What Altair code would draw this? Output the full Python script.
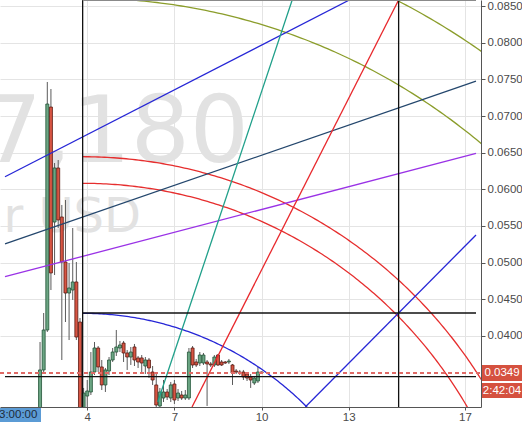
import altair as alt
import numpy as np
import pandas as pd

# Plot area and scale domains (days of month / price)
W, H = 481, 407
X_DOMAIN = [1.169, 17.381]
Y_DOMAIN = [0.03026, 0.08586]

# 3-hour candles, first bar on day 2 at 09:00
first_bar = 2.375
bar_step = 0.125

opens = [0.02849, 0.03532, 0.04078, 0.07124, 0.05553, 0.06291, 0.05622, 0.05007, 0.04583, 0.04624,
         0.04734, 0.04187, 0.02849, 0.03176, 0.03231, 0.03504, 0.03832, 0.03573, 0.03327, 0.03518,
         0.03668, 0.03777, 0.03832, 0.03900, 0.03764, 0.03709, 0.03846, 0.03696, 0.03696, 0.03586,
         0.03668, 0.03504, 0.03327, 0.03040, 0.03149, 0.03231, 0.03149, 0.03340, 0.03149, 0.03190,
         0.03149, 0.03149, 0.03832, 0.03641, 0.03627, 0.03627, 0.03641, 0.03614, 0.03600, 0.03736,
         0.03641, 0.03641, 0.03641, 0.03600, 0.03518, 0.03504, 0.03504, 0.03477, 0.03436, 0.03354,
         0.03381, 0.03504]
closes = [0.03532, 0.04078, 0.07165, 0.04857, 0.06291, 0.05581, 0.05007, 0.04583, 0.04652, 0.04734,
          0.03982, 0.02917, 0.03217, 0.03245, 0.03504, 0.03832, 0.03573, 0.03327, 0.03532, 0.03668,
          0.03777, 0.03846, 0.03873, 0.03764, 0.03709, 0.03777, 0.03668, 0.03641, 0.03627, 0.03668,
          0.03559, 0.03395, 0.03053, 0.03231, 0.03231, 0.03163, 0.03327, 0.03122, 0.03217, 0.03149,
          0.03190, 0.03777, 0.03600, 0.03600, 0.03736, 0.03736, 0.03614, 0.03600, 0.03709, 0.03600,
          0.03600, 0.03627, 0.03654, 0.03490, 0.03504, 0.03490, 0.03436, 0.03422, 0.03395, 0.03422,
          0.03504, 0.03490]
highs = [0.03914, 0.04310, 0.07466, 0.07370, 0.06359, 0.06400, 0.05786, 0.05854, 0.04993, 0.05471,
         0.05007, 0.04242, 0.03286, 0.03395, 0.03777, 0.03914, 0.03859, 0.03668, 0.03559, 0.03709,
         0.03832, 0.04078, 0.03928, 0.03928, 0.03805, 0.03846, 0.03887, 0.03723, 0.03736, 0.03709,
         0.03696, 0.03586, 0.03504, 0.03286, 0.03395, 0.03272, 0.03368, 0.03395, 0.03272, 0.03245,
         0.03258, 0.03832, 0.03859, 0.03682, 0.03777, 0.03764, 0.03668, 0.03641, 0.03736, 0.03750,
         0.03668, 0.03654, 0.03682, 0.03614, 0.03545, 0.03532, 0.03532, 0.03504, 0.03477, 0.03450,
         0.03573, 0.03510]
lows = [0.02780, 0.03504, 0.04051, 0.04624, 0.04829, 0.05471, 0.03668, 0.04187, 0.03941, 0.04488,
        0.03941, 0.02849, 0.02780, 0.03000, 0.03190, 0.03463, 0.03504, 0.03258, 0.03231, 0.03463,
        0.03641, 0.03723, 0.03777, 0.03641, 0.03532, 0.03600, 0.03586, 0.03559, 0.03504, 0.03477,
        0.03422, 0.03327, 0.02999, 0.03012, 0.03094, 0.03122, 0.03094, 0.03067, 0.03108, 0.03122,
        0.03122, 0.03122, 0.03559, 0.03573, 0.03586, 0.03600, 0.03040, 0.03573, 0.03573, 0.03586,
        0.03586, 0.03614, 0.03614, 0.03327, 0.03477, 0.03463, 0.03395, 0.03381, 0.03286, 0.03327,
        0.03354, 0.03480]

last_price = 0.0349
price_ticks = [0.040, 0.045, 0.050, 0.055, 0.060, 0.065, 0.070, 0.075, 0.080, 0.085]
day_ticks = [4, 7, 10, 13, 17]

# Trend / fan lines: start day, start price, end day, end price, colour
trend_x0 = [1.169, 1.169, 1.169, 6.427, 7.606, 11.506]
trend_y0 = [0.06172, 0.05253, 0.04806, 0.03094, 0.03026, 0.03026]
trend_x1 = [13.023, 17.381, 17.381, 11.054, 14.718, 17.381]
trend_y1 = [0.08586, 0.07479, 0.06492, 0.08586, 0.08586, 0.05376]
trend_col = ["#2626d6", "#24476d", "#9a32e6", "#20a08a", "#e8282c", "#2626d6"]

# Box edges
box_x0 = [3.842, 14.718, 3.842, 1.169, 3.842]
box_y0 = [0.03026, 0.03026, 0.04310, 0.03440, 0.08580]
box_x1 = [3.842, 14.718, 17.381, 17.381, 17.381]
box_y1 = [0.08586, 0.08586, 0.04310, 0.03440, 0.08580]
box_col = ["#111111", "#111111", "#111111", "#111111", "#8a8a8a"]

# Gann arcs: common centre, price reached straight above the centre
arc_center_day = 3.842
arc_center_price = -0.00157
arc_tops = [0.04306, 0.06082, 0.06445, 0.08613, 0.09620]
arc_col = ["#2626d6", "#e62e2e", "#e62e2e", "#8b9d2b", "#8b9d2b"]

# ---------------------------------------------------------------- tables
days = first_bar + bar_step * np.arange(len(opens))
candles = pd.DataFrame({
    "day": days, "open": opens, "close": closes, "high": highs, "low": lows,
})
candles["dir"] = np.where(candles["close"] >= candles["open"], "up", "down")

rows = []
for k, (a, b, c, d, col) in enumerate(zip(trend_x0, trend_y0, trend_x1, trend_y1, trend_col)):
    rows += [{"id": f"t{k}", "k": 0, "day": a, "price": b, "col": col},
             {"id": f"t{k}", "k": 1, "day": c, "price": d, "col": col}]
for k, (a, b, c, d, col) in enumerate(zip(box_x0, box_y0, box_x1, box_y1, box_col)):
    rows += [{"id": f"b{k}", "k": 0, "day": a, "price": b, "col": col},
             {"id": f"b{k}", "k": 1, "day": c, "price": d, "col": col}]
lines = pd.DataFrame(rows)

# arcs are circles on screen, so convert the radius through both scales
px_per_day = W / (X_DOMAIN[1] - X_DOMAIN[0])
px_per_price = H / (Y_DOMAIN[1] - Y_DOMAIN[0])
ang = np.linspace(0, np.pi / 2, 240)
arc_rows = []
for k, (top, col) in enumerate(zip(arc_tops, arc_col)):
    r = (top - arc_center_price) * px_per_price
    for j, a in enumerate(ang):
        arc_rows.append({
            "id": f"a{k}", "k": j, "col": col,
            "day": arc_center_day + r * np.sin(a) / px_per_day,
            "price": arc_center_price + r * np.cos(a) / px_per_price,
        })
arcs = pd.DataFrame(arc_rows)

# ---------------------------------------------------------------- scales / axes
xscale = alt.Scale(domain=X_DOMAIN, nice=False, zero=False)
yscale = alt.Scale(domain=Y_DOMAIN, nice=False, zero=False)
xaxis = alt.Axis(values=day_ticks, format="d", title=None, orient="bottom", grid=True,
                 tickSize=3, labelPadding=1, labelFlush=False, labelOverlap=False)
yaxis = alt.Axis(values=price_ticks, format=".4f", title=None, orient="right", grid=True,
                 tickSize=4, labelPadding=2, labelFlush=False, labelOverlap=False)

X = lambda f: alt.X(f, type="quantitative", scale=xscale, axis=xaxis)
Y = lambda f: alt.Y(f, type="quantitative", scale=yscale, axis=yaxis)

# ---------------------------------------------------------------- layers
wm1 = alt.Chart(pd.DataFrame({"t": ["7,180"]})).mark_text(
    font="DejaVu Sans", fontSize=93, align="right", baseline="alphabetic", color="#e2e2e2"
).encode(text="t:N", x=alt.value(249), y=alt.value(162))
wm2 = alt.Chart(pd.DataFrame({"t": ["r USD"]})).mark_text(
    font="DejaVu Sans", fontSize=48, align="right", baseline="alphabetic", color="#e2e2e2"
).encode(text="t:N", x=alt.value(141), y=alt.value(232))

wicks = alt.Chart(candles).mark_rule(clip=True, color="#5a5a5a", strokeWidth=1).encode(
    x=X("day"), y=Y("low"), y2="high")
bodies = alt.Chart(candles).mark_bar(clip=True, size=3, strokeWidth=0.8).encode(
    x=X("day"), y=Y("open"), y2="close",
    color=alt.Color("dir:N", scale=alt.Scale(domain=["up", "down"], range=["#6ba583", "#d75442"]), legend=None),
    stroke=alt.Stroke("dir:N", scale=alt.Scale(domain=["up", "down"], range=["#225437", "#5b1a13"]), legend=None),
)

line_layer = alt.Chart(lines).mark_line(clip=True, strokeWidth=1.3).encode(
    x=X("day"), y=Y("price"), detail="id:N", order="k:Q",
    color=alt.Color("col:N", scale=None))
arc_layer = alt.Chart(arcs).mark_line(clip=True, strokeWidth=1.3).encode(
    x=X("day"), y=Y("price"), detail="id:N", order="k:Q",
    color=alt.Color("col:N", scale=None))

last = pd.DataFrame({"price": [last_price], "label": [f"{last_price:.4f}"], "timer": ["2:42:04"]})
price_line = alt.Chart(last).mark_rule(color="#e06a66", strokeWidth=2, strokeDash=[4, 3]).encode(
    y=Y("price"), x=alt.value(0), x2=alt.value(W + 4))
price_box = alt.Chart(last).mark_tick(orient="horizontal", size=40, thickness=16, color="#d5513f", opacity=1).encode(
    y=Y("price"), x=alt.value(W + 21))
timer_box = alt.Chart(last).mark_tick(orient="horizontal", size=40, thickness=15, color="#d5513f", opacity=1, yOffset=17.5).encode(
    y=Y("price"), x=alt.value(W + 21))
price_txt = alt.Chart(last).mark_text(color="white", fontSize=11.5, font="Liberation Sans").encode(
    y=Y("price"), x=alt.value(W + 21), text="label:N")
timer_txt = alt.Chart(last).mark_text(color="white", fontSize=11.5, font="Liberation Sans", yOffset=17.5).encode(
    y=Y("price"), x=alt.value(W + 21), text="timer:N")

cross = pd.DataFrame({"t": ["3:00:00"]})
cross_box = alt.Chart(cross).mark_tick(orient="horizontal", size=42, thickness=14, color="#5b9bd5", opacity=1).encode(
    x=alt.value(20), y=alt.value(H + 8))
cross_txt = alt.Chart(cross).mark_text(color="#1d2b3a", fontSize=11.5, font="Liberation Sans", align="left").encode(
    x=alt.value(-1), y=alt.value(H + 8), text="t:N")

chart = alt.layer(
    wm1, wm2, wicks, bodies, arc_layer, line_layer, price_line,
    price_box, timer_box, price_txt, timer_txt, cross_box, cross_txt,
).properties(
    width=W, height=H,
    padding={"left": 0, "top": 0, "right": 41, "bottom": 15},
    autosize=alt.AutoSizeParams(type="none"),
).configure_view(strokeWidth=0).configure_axis(
    labelFont="Liberation Sans", labelFontSize=11.5, labelColor="#4a4a4a",
    domainColor="#555555", tickColor="#555555", gridColor="#e4e4e4",
)

chart.save("out.html", embed_options={"renderer": "svg", "actions": False})
